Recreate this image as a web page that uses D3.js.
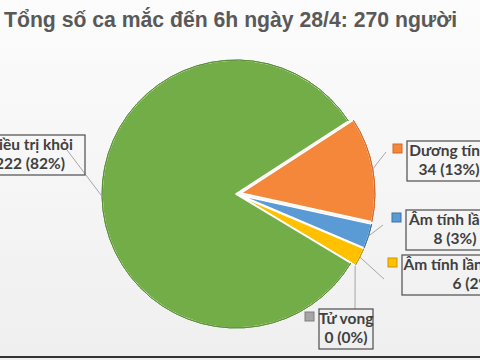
<!DOCTYPE html>
<html lang="vi">
<head>
<meta charset="UTF-8">
<title>Tổng số ca mắc</title>
<script src="https://d3js.org/d3.v7.min.js"></script>
<style>
  body { margin: 0; }
  svg { display: block; }
</style>
</head>
<body>
<div id="chart"></div>
<script>
// du lieu
var categories = ["Dương tính", "Âm tính lần 1", "Âm tính lần 2 trở lên", "Tử vong", "Điều trị khỏi"];
var values = [34, 8, 6, 0, 222];
var colors = ["#f4873a", "#5b9bd5", "#ffc000", "#a5a5a5", "#72ad47"];
var edgeColors = ["#d4692a", "#41719c", "#c99700", "#7f7f7f", "#5a8f36"];
var title = "Tổng số ca mắc đến 6h ngày 28/4: 270 người";

var width = 480, height = 360;
var cx = 236, cy = 194, radius = 134;
var explode = [5, 5, 5, 5, 0];

// vi tri nhan (hop chu) va diem cuoi duong dan
var boxes = [
  { x: 407, y: 141, w: 84 },
  { x: 406, y: 210, w: 98 },
  { x: 402, y: 255, w: 144 },
  { x: 319, y: 309, w: 54 },
  { x: -25, y: 135, w: 110 }
];
var leaderEnds = [[386, 152], [383, 225], [384, 279], [355, 309], [67, 150]];

var svg = d3.select("#chart").append("svg")
  .attr("width", width)
  .attr("height", height);

var grad = svg.append("defs").append("linearGradient")
  .attr("id", "bg").attr("x1", 0).attr("y1", 0).attr("x2", 0).attr("y2", 1);
grad.append("stop").attr("offset", "0%").attr("stop-color", "#fcfcfc");
grad.append("stop").attr("offset", "100%").attr("stop-color", "#efefef");

svg.append("rect").attr("width", width).attr("height", height).attr("fill", "url(#bg)");

svg.append("text")
  .attr("x", 4).attr("y", 27)
  .attr("font-family", "Liberation Sans, Arial, sans-serif")
  .attr("font-weight", "bold")
  .attr("font-size", 21.2)
  .attr("fill", "#595959")
  .text(title);

var total = d3.sum(values);
var fmt = d3.format(".0%");
var start = 57 * Math.PI / 180;

var pie = d3.pie().sort(null).value(function(d) { return d; })
  .startAngle(start).endAngle(start + 2 * Math.PI);
var arcs = pie(values);

var arc = d3.arc().innerRadius(0).outerRadius(radius);
var rim = d3.arc().innerRadius(radius).outerRadius(radius);

function offset(d, i) {
  var a = (d.startAngle + d.endAngle) / 2;
  return [Math.sin(a) * explode[i], -Math.cos(a) * explode[i]];
}

var g = svg.append("g").attr("transform", "translate(" + cx + "," + cy + ")");

var slices = g.selectAll("g.slice").data(arcs).enter().append("g")
  .attr("class", "slice")
  .attr("transform", function(d, i) { var o = offset(d, i); return "translate(" + o[0] + "," + o[1] + ")"; });

slices.append("path")
  .attr("d", arc)
  .attr("fill", function(d, i) { return colors[i]; })
  .attr("stroke", "#ffffff")
  .attr("stroke-width", 1.5)
  .attr("stroke-linejoin", "round");

slices.filter(function(d) { return d.value > 0; }).append("path")
  .attr("d", rim)
  .attr("fill", "none")
  .attr("stroke", function(d) { return edgeColors[d.index]; })
  .attr("stroke-width", 1);

// duong dan
svg.selectAll("line.leader").data(arcs).enter().append("line")
  .attr("class", "leader")
  .attr("x1", function(d, i) {
    var a = (d.startAngle + d.endAngle) / 2;
    return cx + Math.sin(a) * (radius + explode[i]);
  })
  .attr("y1", function(d, i) {
    var a = (d.startAngle + d.endAngle) / 2;
    return cy - Math.cos(a) * (radius + explode[i]);
  })
  .attr("x2", function(d, i) { return leaderEnds[i][0]; })
  .attr("y2", function(d, i) { return leaderEnds[i][1]; })
  .attr("stroke", "#a6a6a6")
  .attr("stroke-width", 1);

// nhan
var labels = svg.selectAll("g.label").data(arcs).enter().append("g")
  .attr("class", "label")
  .attr("transform", function(d, i) { return "translate(" + boxes[i].x + "," + boxes[i].y + ")"; });

labels.append("rect")
  .attr("width", function(d, i) { return boxes[i].w; })
  .attr("height", 40)
  .attr("fill", "none")
  .attr("stroke", "#595959")
  .attr("stroke-width", 1.3);

labels.append("rect")
  .attr("x", -14).attr("y", 3)
  .attr("width", 9).attr("height", 9)
  .attr("fill", function(d, i) { return colors[i]; })
  .attr("stroke", function(d, i) { return edgeColors[i]; })
  .attr("stroke-width", 1);

var txt = labels.append("text")
  .attr("text-anchor", "middle")
  .attr("font-family", "Lato, Carlito, sans-serif")
  .attr("font-weight", "bold")
  .attr("font-size", 15.5)
  .attr("fill", "#404040");

txt.append("tspan")
  .attr("x", function(d, i) { return boxes[i].w / 2; })
  .attr("y", 15)
  .text(function(d, i) { return categories[i]; });

txt.append("tspan")
  .attr("x", function(d, i) { return boxes[i].w / 2; })
  .attr("y", 34)
  .text(function(d) { return d.value + " (" + fmt(d.value / total) + ")"; });

svg.append("rect")
  .attr("x", 0).attr("y", 356)
  .attr("width", width).attr("height", 2)
  .attr("fill", "#333333");
</script>
</body>
</html>
